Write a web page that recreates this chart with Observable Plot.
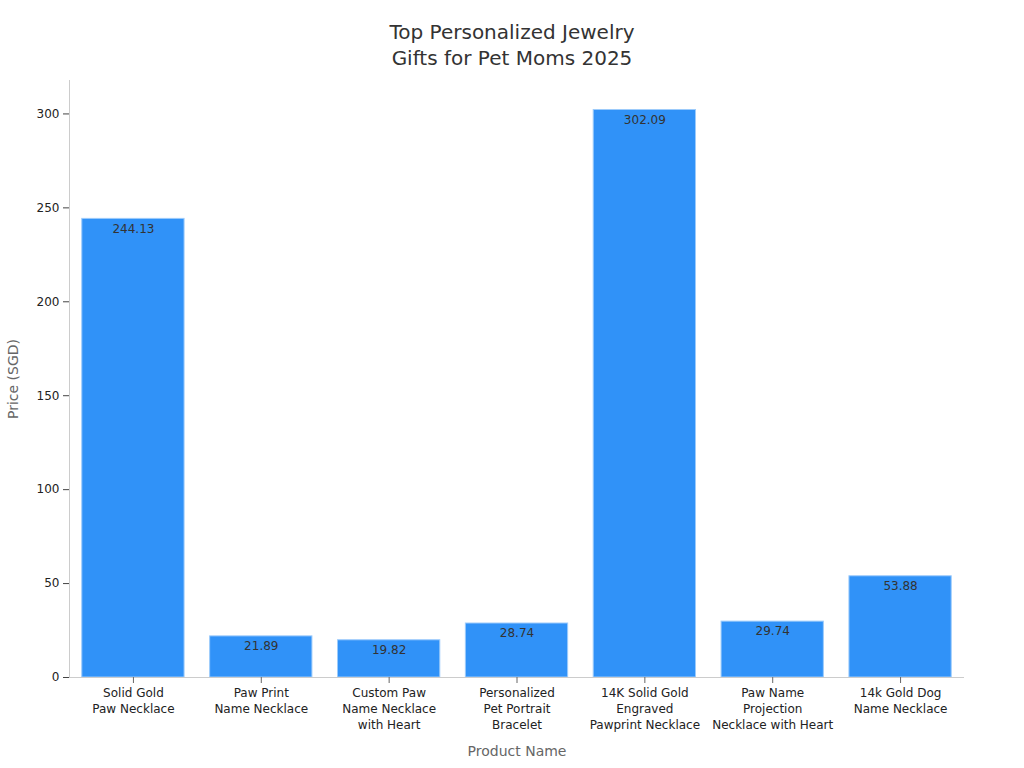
<!DOCTYPE html>
<html>
<head>
<meta charset="utf-8">
<script src="https://cdn.jsdelivr.net/npm/d3@7"></script>
<script src="https://cdn.jsdelivr.net/npm/@observablehq/plot@0.6"></script>
<style>
  html, body { margin: 0; padding: 0; background: #fff; }
  body { width: 1024px; font-family: "DejaVu Sans", sans-serif; }
  #title { height: 75px; box-sizing: border-box; padding-top: 19px; text-align: center;
           font-size: 20px; line-height: 26px; color: #333; }
</style>
</head>
<body>
<div id="title">Top Personalized Jewelry<br>Gifts for Pet Moms 2025</div>
<div id="chart"></div>
<script>
const products = [
  "Solid Gold\nPaw Necklace",
  "Paw Print\nName Necklace",
  "Custom Paw\nName Necklace\nwith Heart",
  "Personalized\nPet Portrait\nBracelet",
  "14K Solid Gold\nEngraved\nPawprint Necklace",
  "Paw Name\nProjection\nNecklace with Heart",
  "14k Gold Dog\nName Necklace"
];
const prices = [244.13, 21.89, 19.82, 28.74, 302.09, 29.74, 53.88];
const yTicks = [0, 50, 100, 150, 200, 250, 300];
const xTitle = "Product Name";
const yTitle = "Price (SGD)";

const data = products.map((p, i) => ({product: p, price: prices[i]}));

const W = 1024, ML = 69, MR = 60;
const chart = Plot.plot({
  width: W,
  height: 693,
  marginTop: 5,
  marginBottom: 91,
  marginLeft: ML,
  marginRight: MR,
  style: {fontFamily: "DejaVu Sans, sans-serif", fontSize: "12px", color: "#222", background: "#fff"},
  x: {domain: products, paddingInner: 0.2, paddingOuter: 0.1, round: false, label: null},
  y: {domain: [0, 302.09 * 1.052], label: null},
  marks: [
    Plot.barY(data, {x: "product", y: "price", fill: "#3092f8", stroke: "#9ccbfb", strokeWidth: 1}),
    Plot.text(data, {x: "product", y: "price", text: d => d.price.toFixed(2), dy: 10, fill: "#333", fontSize: 12}),
    Plot.ruleX([0], {x: null, dx: -(W - ML - MR) / 2, stroke: "#ccc"}),
    Plot.ruleY([0], {stroke: "#ccc"}),
    Plot.axisY({ticks: yTicks, tickSize: 6, tickPadding: 4, label: null, stroke: "#444", fill: "#222", fontSize: 12}),
    Plot.axisX({tickSize: 6, tickPadding: 2, label: null, stroke: "#666", fill: "#222", fontSize: 12, lineHeight: 1.33}),
    Plot.text([xTitle], {frameAnchor: "bottom", dy: 78, fill: "#666", fontSize: 14}),
    Plot.text([yTitle], {frameAnchor: "left", dx: -56, rotate: -90, textAnchor: "middle", fill: "#666", fontSize: 14})
  ]
});
document.getElementById("chart").appendChild(chart);
</script>
</body>
</html>
